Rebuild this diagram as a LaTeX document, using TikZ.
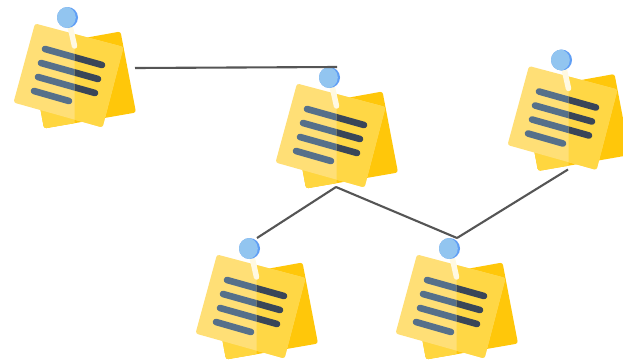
\documentclass[tikz,border=0pt]{standalone}
\definecolor{backlight}{HTML}{FFD63F}
\definecolor{backdark}{HTML}{FFC70A}
\definecolor{frontlight}{HTML}{FFDF76}
\definecolor{frontdark}{HTML}{FFD745}
\definecolor{barlight}{HTML}{56708A}
\definecolor{bardark}{HTML}{3A4658}
\definecolor{pinlight}{HTML}{92C5F0}
\definecolor{pindark}{HTML}{5F9EF5}
\definecolor{stick}{HTML}{FFF9E2}
\definecolor{wire}{HTML}{555555}
\tikzset{
  wireline/.style={draw=wire,line width=2.1pt},
  barline/.style={line width=6.6pt,line cap=round},
  pics/stickynote/.style={code={
    % back sheet
    \fill[backdark,rounded corners=2.5pt] (120.5,31.5) -- (136,112.5) -- (44,128.5) -- (29,48) -- cycle;
    \begin{scope}
      \clip (0,0) rectangle (74.5,140);
      \fill[backlight,rounded corners=2.5pt] (120.5,31.5) -- (136,112.5) -- (44,128.5) -- (29,48) -- cycle;
    \end{scope}
    % front sheet
    \fill[frontlight,rounded corners=2.5pt] (35,23.5) -- (123.5,47) -- (102.5,127.5) -- (13.5,102.5) -- cycle;
    \begin{scope}
      \clip (74.5,0) rectangle (140,140);
      \fill[frontdark,rounded corners=2.5pt] (35,23.5) -- (123.5,47) -- (102.5,127.5) -- (13.5,102.5) -- cycle;
    \end{scope}
    % text bars
    \begin{scope}
      \clip (0,0) rectangle (74.5,140);
      \draw[barline,barlight] (45,49) -- (102,65);
      \draw[barline,barlight] (41,63) -- (98,79);
      \draw[barline,barlight] (38,77) -- (95,93);
      \draw[barline,barlight] (34,91) -- (69,101);
    \end{scope}
    \begin{scope}
      \clip (74.5,0) rectangle (140,140);
      \draw[barline,bardark] (45,49) -- (102,65);
      \draw[barline,bardark] (41,63) -- (98,79);
      \draw[barline,bardark] (38,77) -- (95,93);
    \end{scope}
    % pin
    \draw[stick,line width=5.5pt,line cap=round] (70.5,28) -- (74.5,46);
    \fill[pindark] (67.5,17.5) circle[radius=10.5];
    \begin{scope}
      \clip (67.5,17.5) circle[radius=10.5];
      \fill[pinlight] (65,17.5) circle[radius=10.8];
    \end{scope}
    \coordinate (-right) at (135,68);
    \coordinate (-top) at (75,7);
    \coordinate (-bottom) at (74,127);
  }}
}
\begin{document}
\begin{tikzpicture}[x=1pt,y=-1pt]
  \useasboundingbox (0,0) rectangle (623,359);
  \clip (0,0) rectangle (623,359);
  \fill[white] (0,0) rectangle (623,359);
  \pic (n1) at (0,0) {stickynote};
  \pic (n2) at (262,60) {stickynote};
  \pic (n3) at (494,42.5) {stickynote};
  \pic (n4) at (182,231) {stickynote};
  \pic (n5) at (382,231) {stickynote};
  \draw[wireline] (n1-right) -- (n2-top);
  \draw[wireline] (n4-top) -- (n2-bottom);
  \draw[wireline] (n2-bottom) -- (n5-top);
  \draw[wireline] (n5-top) -- (n3-bottom);
\end{tikzpicture}
\end{document}
